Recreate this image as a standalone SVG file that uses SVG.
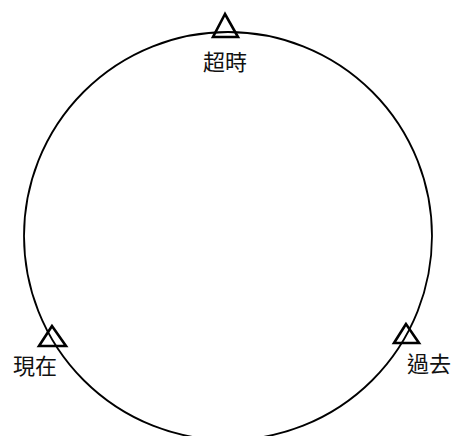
<svg xmlns="http://www.w3.org/2000/svg" width="452" height="436" viewBox="0 0 452 436">
<style>
.ring{fill:none;stroke:#000;stroke-width:1.8}
.tri{fill:none;stroke:#000;stroke-width:2.6;stroke-linejoin:miter}
.lbl{font-family:"Liberation Serif","Noto Sans CJK TC",serif;font-size:22px;fill:#111;text-anchor:middle}
</style>
<rect width="452" height="436" fill="#fff"/>
<g id="connectors">
<circle class="ring" cx="228" cy="236" r="204"/>
</g>
<g id="node-chaoshi">
<polygon class="tri" points="225,14 213,37 238,37"/>
<text class="lbl" x="225" y="70">超時</text>
</g>
<g id="node-xianzai">
<polygon class="tri" points="52,326 39,346 66,346"/>
<text class="lbl" x="35" y="374">現在</text>
</g>
<g id="node-guoqu">
<polygon class="tri" points="406,324 394,343 419,343"/>
<text class="lbl" x="429" y="372">過去</text>
</g>
</svg>
